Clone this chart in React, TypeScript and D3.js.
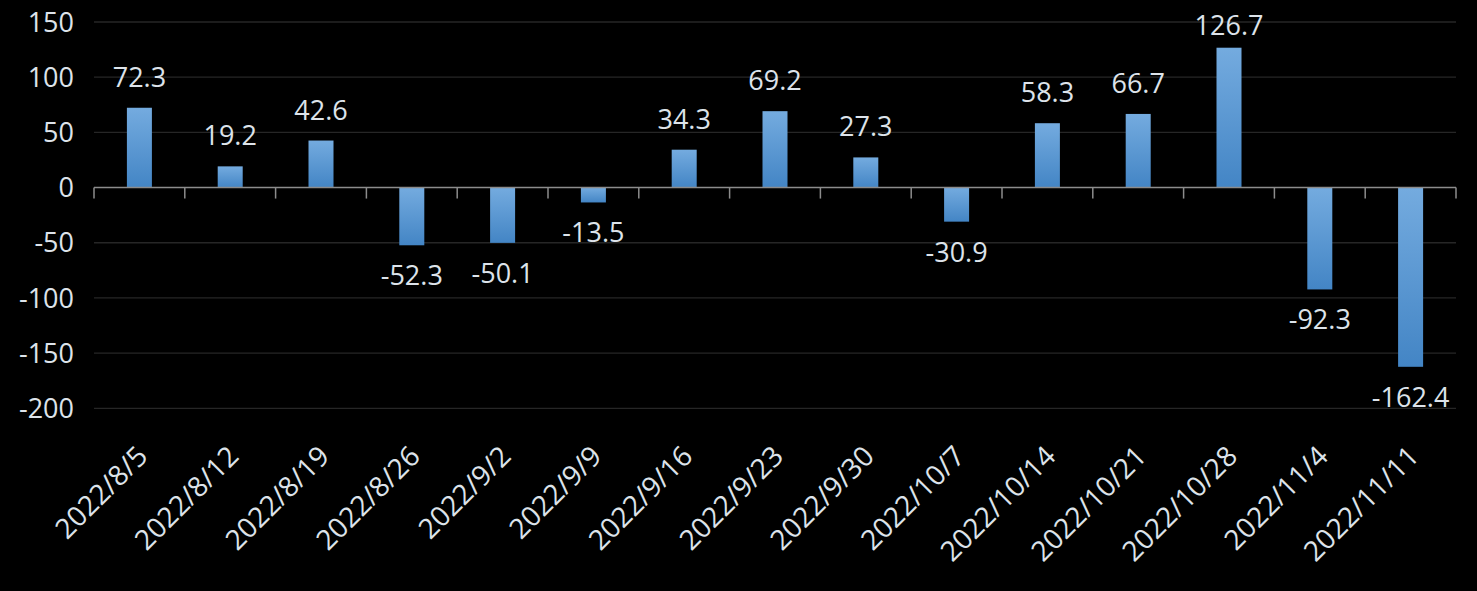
import React from "react";
import * as d3 from "d3";

const categories = ["2022/8/5","2022/8/12","2022/8/19","2022/8/26","2022/9/2","2022/9/9","2022/9/16","2022/9/23","2022/9/30","2022/10/7","2022/10/14","2022/10/21","2022/10/28","2022/11/4","2022/11/11"];
const values = [72.3,19.2,42.6,-52.3,-50.1,-13.5,34.3,69.2,27.3,-30.9,58.3,66.7,126.7,-92.3,-162.4];
const yTicks = [150,100,50,0,-50,-100,-150,-200];

const W = 1477, H = 591;
const left = 94, right = 1456, top = 22, bottom = 408.3;
const FONT = "'Open Sans', 'Noto Sans', sans-serif";
const TXT = "#dde3ea";

export default function App() {
  const x = d3.scaleBand<string>().domain(categories).range([left, right]).paddingInner(0).paddingOuter(0);
  const y = d3.scaleLinear().domain([-200, 150]).range([bottom, top]);
  const bw = 25;
  const y0 = y(0);
  return (
    <svg width={W} height={H} style={{ position: "absolute", left: 0, top: 0, background: "#000" }}>
      <defs>
        <linearGradient id="barg" x1="0" y1="0" x2="0" y2="1">
          <stop offset="0" stopColor="#74abdf" />
          <stop offset="1" stopColor="#4385c5" />
        </linearGradient>
      </defs>
      <rect x={0} y={0} width={W} height={H} fill="#000" />
      {yTicks.filter(t => t !== 0).map(t => (
        <line key={t} x1={left} x2={right} y1={y(t)} y2={y(t)} stroke="#262626" strokeWidth={1.3} />
      ))}
      {yTicks.map(t => (
        <text key={"l" + t} x={left - 20} y={y(t)} dy="0.36em" textAnchor="end" fill={TXT} fontFamily={FONT} fontSize={27}>{t}</text>
      ))}
      {categories.map((c, i) => {
        const v = values[i];
        const cx = x(c)! + x.bandwidth() / 2;
        const yt = Math.min(y(v), y0);
        const h = Math.abs(y(v) - y0);
        return (
          <g key={c}>
            <rect x={cx - bw / 2} y={yt} width={bw} height={h} fill="url(#barg)" />
            <text x={cx} y={v >= 0 ? Math.max(y(v) - 21, 35) : y(v) + 40} textAnchor="middle" fill={TXT} fontFamily={FONT} fontSize={27}>{v.toFixed(1)}</text>
            <text transform={`translate(${cx + 10},${458}) rotate(-45)`} textAnchor="end" fill={TXT} fontFamily={FONT} fontSize={28}>{c}</text>
          </g>
        );
      })}
      <line x1={left} x2={right} y1={y0} y2={y0} stroke="#8c8c8c" strokeWidth={1.5} />
      {d3.range(categories.length + 1).map(i => {
        const xx = left + i * x.bandwidth();
        return <line key={"t" + i} x1={xx} x2={xx} y1={y0} y2={y0 + 11} stroke="#8c8c8c" strokeWidth={1.5} />;
      })}
    </svg>
  );
}
